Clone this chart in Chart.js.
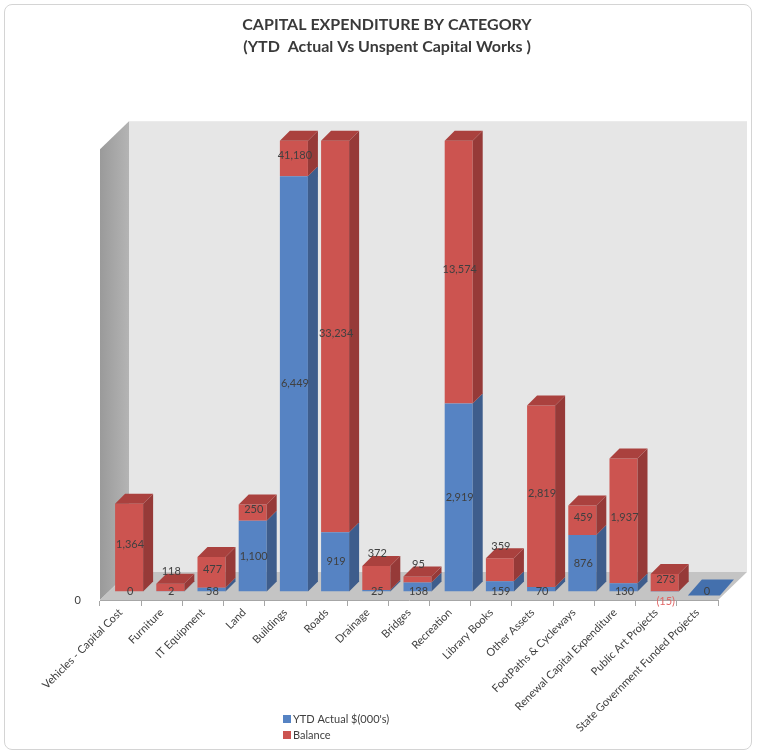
<!DOCTYPE html>
<html>
<head>
<meta charset="utf-8">
<title>Capital Expenditure by Category</title>
<script src="https://cdn.jsdelivr.net/npm/chart.js@4.4.1/dist/chart.umd.min.js"></script>
<style>
  html, body { margin: 0; padding: 0; background: #fff; }
  #frame {
    position: absolute; left: 4px; top: 4px; width: 746px; height: 744px;
    border: 1px solid #d4d4d4; border-radius: 8px; pointer-events: none;
  }
  canvas { position: absolute; left: 0; top: 0; }
</style>
</head>
<body>
<canvas id="capexChart" width="760" height="756"></canvas>
<div id="frame"></div>
<script>
// ---- data ----
const categories = [
  'Vehicles - Capital Cost', 'Furniture', 'IT Equipment', 'Land', 'Buildings', 'Roads',
  'Drainage', 'Bridges', 'Recreation', 'Library Books', 'Other Assets',
  'FootPaths & Cycleways', 'Renewal Capital Expenditure', 'Public Art Projects',
  'State Government Funded Projects'
];
const ytdActual = [0, 2, 58, 1100, 6449, 919, 25, 138, 2919, 159, 70, 876, 130, -15, 0];
const balance = [1364, 118, 477, 250, 41180, 33234, 372, 95, 13574, 359, 2819, 459, 1937, 273, 0];
const yTicks = [0];
const yMax = 7000;

// colours: front, side, top
const shades = [
  { front: '#5683c3', side: '#3e5d8c', top: '#4470ad' },
  { front: '#cc5450', side: '#963a38', top: '#aa413e' }
];

const FONT = 'Lato, "Liberation Sans", sans-serif';
const WALL = { dx: 29, dy: -28 };   // depth of the floor / walls
const SHIFT = { dx: 8.5, dy: -8.5 }; // bars sit part way back on the floor
const BAR = { dx: 10, dy: -10 };     // depth of each bar

function poly(ctx, pts, fill) {
  ctx.beginPath();
  ctx.moveTo(pts[0][0], pts[0][1]);
  for (let k = 1; k < pts.length; k++) ctx.lineTo(pts[k][0], pts[k][1]);
  ctx.closePath();
  ctx.fillStyle = fill;
  ctx.fill();
}

function fmt(v) {
  const s = Math.abs(v).toLocaleString('en-US');
  return v < 0 ? '(' + s + ')' : s;
}

const threeD = {
  id: 'threeD',
  beforeDraw(chart) {
    const { ctx, chartArea: a } = chart;
    ctx.save();
    // back wall
    ctx.fillStyle = '#e6e6e6';
    ctx.fillRect(a.left + WALL.dx, a.top + WALL.dy, a.right - a.left, a.bottom - a.top);
    // left wall
    const g = ctx.createLinearGradient(a.left, 0, a.left + WALL.dx, 0);
    g.addColorStop(0, '#9a9a9a');
    g.addColorStop(1, '#b4b4b4');
    poly(ctx, [[a.left, a.top], [a.left + WALL.dx, a.top + WALL.dy],
      [a.left + WALL.dx, a.bottom + WALL.dy], [a.left, a.bottom]], g);
    // floor
    poly(ctx, [[a.left, a.bottom], [a.left + WALL.dx, a.bottom + WALL.dy],
      [a.right + WALL.dx, a.bottom + WALL.dy], [a.right, a.bottom]], '#c4c4c4');
    ctx.restore();
  },
  beforeDatasetsDraw(chart) {
    chart.ctx.save();
    chart.ctx.translate(SHIFT.dx, SHIFT.dy);
  },
  afterDatasetsDraw(chart) {
    const { ctx, chartArea: a } = chart;
    const metas = [chart.getDatasetMeta(0), chart.getDatasetMeta(1)];
    const clampY = y => Math.min(Math.max(y, a.top), a.bottom);

    categories.forEach((c, i) => {
      // which segment is on top
      let topIdx = 0;
      chart.data.datasets.forEach((ds, d) => { if (ds.data[i] > 0) topIdx = d; });

      metas.forEach((meta, d) => {
        const el = meta.data[i];
        const p = el.getProps(['x', 'y', 'base', 'width'], true);
        const y1 = clampY(Math.min(p.y, p.base));
        const y2 = clampY(Math.max(p.y, p.base));
        const xr = p.x + p.width / 2, xl = p.x - p.width / 2;
        if (y2 > y1) {
          poly(ctx, [[xr, y1], [xr + BAR.dx, y1 + BAR.dy], [xr + BAR.dx, y2 + BAR.dy], [xr, y2]], shades[d].side);
        }
        if (d === topIdx) {
          const grow = y2 > y1 ? 0 : 4; // flat (zero) boxes look a little wider
          poly(ctx, [[xl - grow, y1 + grow], [xl + BAR.dx, y1 + BAR.dy - grow / 2],
            [xr + BAR.dx + grow, y1 + BAR.dy - grow / 2], [xr, y1 + grow]], shades[d].top);
        }
      });
    });

    // data labels
    ctx.font = '11px ' + FONT;
    ctx.textAlign = 'center';
    ctx.textBaseline = 'middle';
    categories.forEach((c, i) => {
      let blueAtBase = false;
      metas.forEach((meta, d) => {
        const v = chart.data.datasets[d].data[i];
        if (d === 1 && v === 0) return;
        const p = meta.data[i].getProps(['x', 'y', 'base'], true);
        const y1 = clampY(Math.min(p.y, p.base));
        const y2 = clampY(Math.max(p.y, p.base));
        const h = y2 - y1;
        let ly;
        ctx.fillStyle = '#404040';
        if (v < 0) {
          ly = a.bottom + 10;
          ctx.fillStyle = '#e06666';
        } else if (d === 0) {
          blueAtBase = h < 20;
          ly = blueAtBase ? a.bottom : (y1 + y2) / 2;
        } else {
          ly = (h < 28 && blueAtBase) ? y1 - 12 : (y1 + y2) / 2 - 3;
        }
        ctx.fillText(fmt(v), p.x + 1, ly);
      });
    });
    ctx.restore();
  },
  afterDraw(chart) {
    const ctx = chart.ctx;
    ctx.save();
    ctx.font = '11px ' + FONT;
    ctx.textBaseline = 'middle';
    ctx.textAlign = 'left';
    chart.data.datasets.forEach((ds, d) => {
      const y = 719 + d * 16;
      ctx.fillStyle = shades[d].front;
      ctx.fillRect(283, y - 4, 8, 8);
      ctx.fillStyle = '#404040';
      ctx.fillText(ds.label, 293, y);
    });
    ctx.restore();
  }
};

new Chart(document.getElementById('capexChart'), {
  type: 'bar',
  data: {
    labels: categories,
    datasets: [
      { label: "YTD Actual $(000's)", data: ytdActual, backgroundColor: shades[0].front },
      { label: 'Balance', data: balance, backgroundColor: shades[1].front }
    ]
  },
  plugins: [threeD],
  options: {
    responsive: false,
    animation: false,
    layout: { padding: { left: 28, right: 14, top: 0, bottom: 0 } },
    datasets: { bar: { categoryPercentage: 1.0, barPercentage: 0.68 } },
    plugins: {
      legend: { display: false },
      tooltip: { enabled: false },
      title: {
        display: true,
        text: ['CAPITAL EXPENDITURE BY CATEGORY', '(YTD  Actual Vs Unspent Capital Works )'],
        color: '#3a3a3a',
        font: { family: FONT, size: 16, weight: 'bold', lineHeight: 1.35 },
        padding: { top: 14, bottom: 92 }
      }
    },
    scales: {
      x: {
        stacked: true,
        afterFit: (scale) => { scale.height = 156; },
        grid: { drawOnChartArea: false, drawTicks: true, tickLength: 6, color: '#a6a6a6' },
        border: { display: true, color: '#a6a6a6' },
        ticks: {
          autoSkip: false, minRotation: 45, maxRotation: 45, padding: 0,
          color: '#404040', font: { family: FONT, size: 11 }
        }
      },
      y: {
        stacked: true,
        min: 0,
        max: yMax,
        afterFit: (scale) => { scale.width = 72; },
        afterBuildTicks: (scale) => { scale.ticks = yTicks.map(v => ({ value: v })); },
        grid: { display: false },
        border: { display: false },
        ticks: { padding: 11, color: '#404040', font: { family: FONT, size: 11 } }
      },
      // empty right axis: leaves room for the back wall's depth
      yRight: {
        position: 'right',
        min: 0,
        max: yMax,
        afterFit: (scale) => { scale.width = 28; },
        grid: { display: false },
        border: { display: false },
        ticks: { display: false }
      }
    }
  }
});
</script>
</body>
</html>
